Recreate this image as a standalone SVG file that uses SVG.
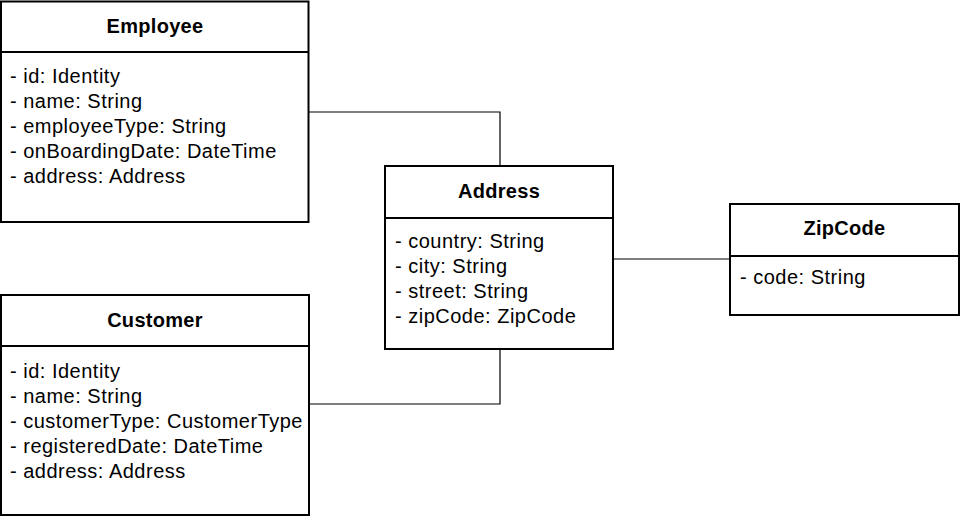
<svg xmlns="http://www.w3.org/2000/svg" width="961" height="518" viewBox="0 0 961 518">
<style>
.box{fill:#fff;stroke:#000;stroke-width:2}
.div{stroke:#000;stroke-width:2}
.title{font-family:"Liberation Sans",Arial,sans-serif;font-size:20px;font-weight:bold;text-anchor:middle;fill:#000;letter-spacing:0.3px}
.attr{font-family:"Liberation Sans",Arial,sans-serif;font-size:20px;fill:#000;letter-spacing:0.5px}
.conn{fill:none;stroke:#000;stroke-width:1.2}
</style>
<rect width="961" height="518" fill="#fff"/>
<g id="connectors">
<polyline class="conn" points="309,112 500,112 500,166"/>
<polyline class="conn" points="309,404 500,404 500,349"/>
<line class="conn" x1="613" y1="259" x2="730" y2="259"/>
</g>
<g id="employee">
<rect class="box" x="1" y="1.5" width="307.5" height="220.5"/>
<line class="div" x1="1" y1="52" x2="308.5" y2="52"/>
<text class="title" x="155" y="33">Employee</text>
<text class="attr" x="10" y="83">- id: Identity</text>
<text class="attr" x="10" y="108">- name: String</text>
<text class="attr" x="10" y="133">- employeeType: String</text>
<text class="attr" x="10" y="158">- onBoardingDate: DateTime</text>
<text class="attr" x="10" y="183">- address: Address</text>
</g>
<g id="customer">
<rect class="box" x="1" y="295" width="308" height="220"/>
<line class="div" x1="1" y1="346" x2="309" y2="346"/>
<text class="title" x="155" y="327">Customer</text>
<text class="attr" x="10" y="378">- id: Identity</text>
<text class="attr" x="10" y="403">- name: String</text>
<text class="attr" x="10" y="428">- customerType: CustomerType</text>
<text class="attr" x="10" y="453">- registeredDate: DateTime</text>
<text class="attr" x="10" y="478">- address: Address</text>
</g>
<g id="address">
<rect class="box" x="385" y="166" width="228" height="183"/>
<line class="div" x1="385" y1="218" x2="613" y2="218"/>
<text class="title" x="499" y="198">Address</text>
<text class="attr" x="395" y="248">- country: String</text>
<text class="attr" x="395" y="273">- city: String</text>
<text class="attr" x="395" y="298">- street: String</text>
<text class="attr" x="395" y="323">- zipCode: ZipCode</text>
</g>
<g id="zipcode">
<rect class="box" x="730" y="204" width="229" height="111"/>
<line class="div" x1="730" y1="256" x2="959" y2="256"/>
<text class="title" x="844.5" y="235">ZipCode</text>
<text class="attr" x="740" y="284">- code: String</text>
</g>
</svg>
